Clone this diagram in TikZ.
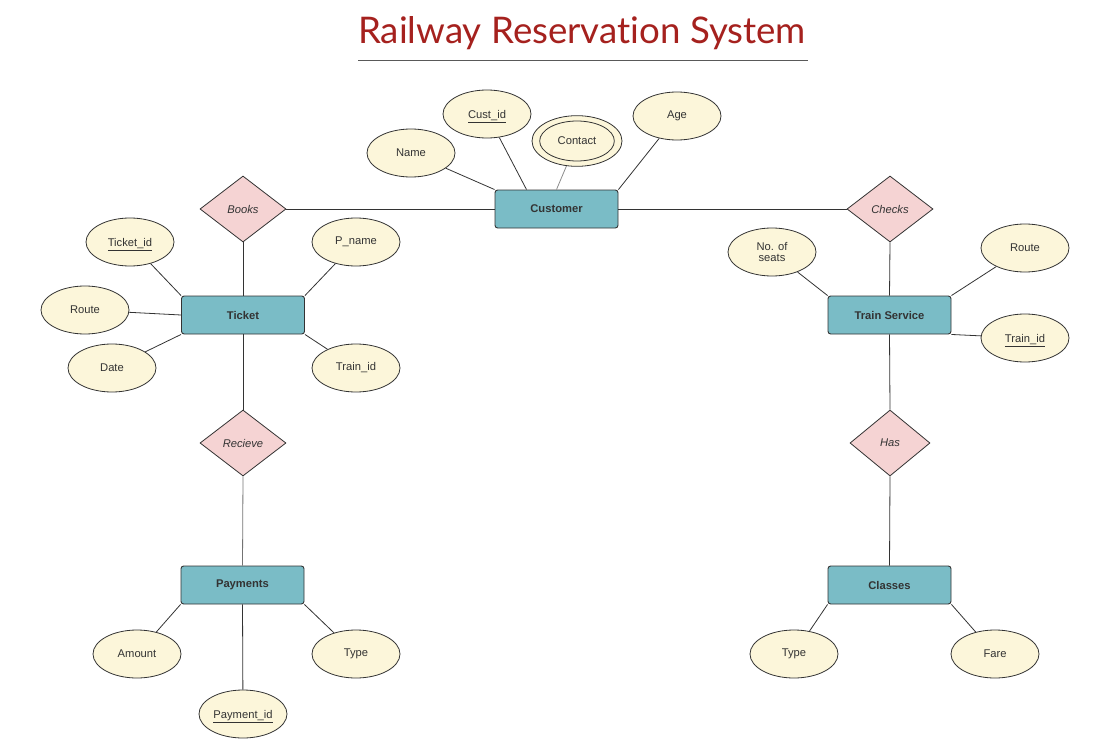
\documentclass[tikz,border=0pt]{standalone}
\usepackage{fontspec}
\setmainfont{Liberation Sans}
\newfontfamily\titlefont[Ligatures=NoCommon]{Lato}
\usetikzlibrary{shapes.geometric,calc}
\definecolor{entfill}{RGB}{122,188,198}
\definecolor{relfill}{RGB}{245,211,211}
\definecolor{attfill}{RGB}{252,246,218}
\definecolor{linec}{RGB}{51,51,51}
\definecolor{textc}{RGB}{51,51,51}
\definecolor{titlec}{RGB}{165,33,30}
\tikzset{
  ent/.style={draw=linec, fill=entfill, line width=0.7pt, rounded corners=2pt,
    minimum width=92.25pt, minimum height=28.5pt, inner sep=0pt,
    font=\fontsize{8.4}{10}\selectfont\bfseries, text=textc},
  rel/.style={draw=linec, fill=relfill, line width=0.6pt, diamond,
    minimum width=64.5pt, minimum height=49.5pt, inner sep=0pt,
    font=\fontsize{8.4}{10}\selectfont\itshape, text=textc},
  att/.style={draw=linec, fill=attfill, line width=0.6pt, ellipse,
    minimum width=66pt, minimum height=36pt, inner sep=0pt,
    font=\fontsize{8.4}{10}\selectfont, text=textc, align=center},
  keyatt/.style={att, text depth=0pt},
  conn/.style={draw=linec, line width=0.6pt},
}
\begin{document}
\begin{tikzpicture}[x=0.75pt,y=-0.75pt]
\useasboundingbox (0,0) rectangle (1120,756);
% title
\node[font=\titlefont\fontsize{27.5}{30}\selectfont, text=titlec] (title) at (582,33) {Railway Reservation System};
\coordinate (ulL) at (358,60);
\coordinate (ulR) at (808,60);
\draw[color=black!65, line width=0.6pt] (ulL) -- (ulR);

% entities
\node[ent] (cust) at (556.5,209) {Customer};
\node[ent] (ticket) at (243,315) {Ticket};
\node[ent] (ts) at (889.5,315) {Train Service};
\node[ent] (pay) at (242.5,585) {Payments};
\node[ent] (cls) at (889.5,585) {Classes};

% relationships
\node[rel] (books) at (243,209) {Books};
\node[rel] (checks) at (890,209) {Checks};
\node[rel] (recv) at (243,443) {Recieve};
\node[rel, minimum width=60pt] (has) at (890,443) {Has};

% customer attributes
\node[att] (name) at (411,153) {Name};
\node[keyatt] (custid) at (487,114) {\underline{Cust\_id}};
\node[att, minimum width=67.5pt, minimum height=38pt] (contactout) at (577,141) {};
\node[att, minimum width=56pt, minimum height=30pt] (contact) at (577,141) {Contact};
\node[att] (age) at (677,116) {Age};

% ticket attributes
\node[keyatt] (ticketid) at (130,242) {\underline{Ticket\_id}};
\node[att] (pname) at (356,242) {P\_name};
\node[att] (routeL) at (85,310) {Route};
\node[att] (date) at (112,368) {Date};
\node[att] (trainidL) at (356,368) {Train\_id};

% train service attributes
\node[att] (seats) at (772,252) {No. of\\[-2pt]seats};
\node[att] (routeR) at (1025,248) {Route};
\node[keyatt] (trainidR) at (1025,338) {\underline{Train\_id}};

% payments attributes
\node[att] (amount) at (137,654) {Amount};
\node[att] (ptype) at (356,654) {Type};
\node[keyatt] (payid) at (243,714) {\underline{Payment\_id}};

% classes attributes
\node[att] (ctype) at (794,654) {Type};
\node[att] (fare) at (995,654) {Fare};

% connectors
\draw[conn] (cust.west) -- (books.east);
\draw[conn] (cust.east) -- (checks.west);
\draw[conn] (books.south) -- (ticket.north);
\draw[conn] (ticket.south) -- (recv.north);
\draw[conn, draw=black!55] (recv.south) -- (pay.north);
\draw[conn] (checks.south) -- (ts.north);
\draw[conn] (ts.south) -- (has.north);
\draw[conn] (has.south) -- (cls.north);

\draw[conn] (name) -- (cust.north west);
\draw[conn] (custid) -- ($(cust.north)+(-30,0)$);
\draw[conn, draw=black!45] (contactout) -- (cust.north);
\draw[conn] (age) -- (cust.north east);

\draw[conn] (ticketid) -- (ticket.north west);
\draw[conn] (pname) -- (ticket.north east);
\draw[conn] (routeL) -- (ticket.west);
\draw[conn] (date) -- (ticket.south west);
\draw[conn] (trainidL) -- (ticket.south east);

\draw[conn] (seats) -- (ts.north west);
\draw[conn] (routeR) -- (ts.north east);
\draw[conn] (trainidR) -- (ts.south east);

\draw[conn] (amount) -- (pay.south west);
\draw[conn] (ptype) -- (pay.south east);
\draw[conn] (payid) -- (pay.south);

\draw[conn] (ctype) -- (cls.south west);
\draw[conn] (fare) -- (cls.south east);
\end{tikzpicture}
\end{document}
